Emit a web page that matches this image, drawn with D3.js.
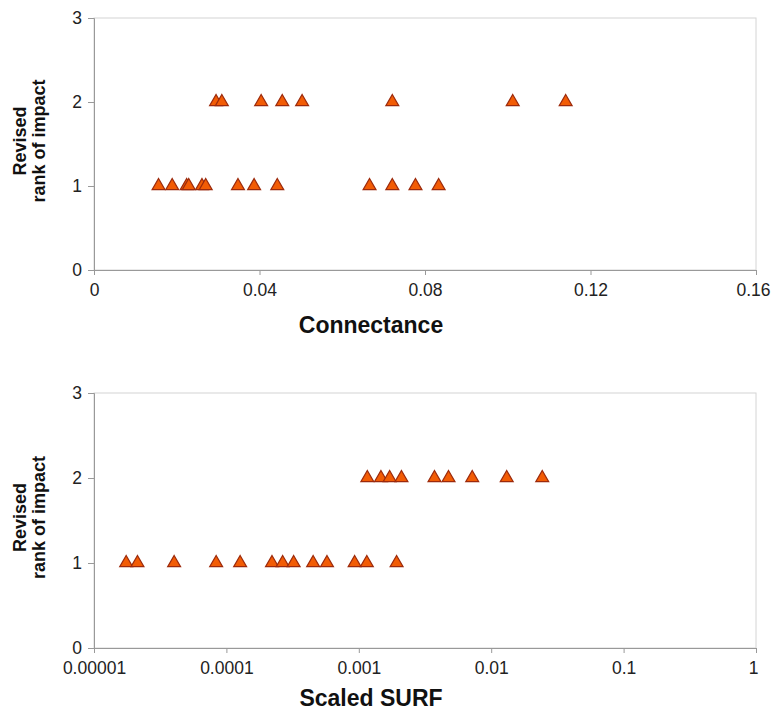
<!DOCTYPE html>
<html lang="en">
<head>
<meta charset="UTF-8">
<script src="https://d3js.org/d3.v7.min.js"></script>
<style>
    body { margin: 0; background: #fff; }
    svg { display: block; font-family: "Liberation Sans", Arial, Helvetica, sans-serif; }
    .tick text { font-size: 17.5px; fill: #222; }
    .axis-title { font-size: 23px; font-weight: bold; fill: #111; }
    .y-title { font-size: 18px; font-weight: bold; fill: #111; }
    .tri { fill: #f25c05; stroke: #9c2a0c; stroke-width: 1.2; }
</style>
</head>
<body>
<svg id="chart" width="772" height="712"></svg>
<script>
// rank of impact vs connectance (top panel)
const connRank2 = [0.0295, 0.0309, 0.0404, 0.0455, 0.0503, 0.0721, 0.1012, 0.1140];
const connRank1 = [0.0156, 0.0189, 0.0224, 0.0229, 0.0261, 0.0270, 0.0348, 0.0387, 0.0443, 0.0666, 0.0721, 0.0777, 0.0833];
const connTicks = [0, 0.04, 0.08, 0.12, 0.16];
const connTickLabels = ["0", "0.04", "0.08", "0.12", "0.16"];

// rank of impact vs scaled SURF (bottom panel)
const surfRank2 = [0.00116, 0.00147, 0.00171, 0.00210, 0.00373, 0.00476, 0.00719, 0.0131, 0.0243];
const surfRank1 = [0.0000175, 0.0000213, 0.0000403, 0.0000837, 0.000127, 0.000221, 0.000266, 0.000322, 0.000452, 0.000575, 0.000930, 0.00115, 0.00193];
const surfTicks = [0.00001, 0.0001, 0.001, 0.01, 0.1, 1];
const surfTickLabels = ["0.00001", "0.0001", "0.001", "0.01", "0.1", "1"];

const rankTicks = [0, 1, 2, 3];

const svg = d3.select("#chart");
const left = 94, right = 756;
const triangle = d3.symbol().type(d3.symbolTriangle).size(72);

function panel(top, bottom, xScale, ticks, tickLabels, series, xTitle, titleY) {
    const g = svg.append("g");
    const y = d3.scaleLinear().domain([0, 3]).range([bottom, top]);

    // plot area border
    g.append("rect")
        .attr("x", left).attr("y", top)
        .attr("width", right - left).attr("height", bottom - top)
        .attr("fill", "none").attr("stroke", "#d4d4d4").attr("stroke-width", 1);

    const yAxis = g.append("g")
        .attr("transform", `translate(${left},0)`)
        .call(d3.axisLeft(y).tickValues(rankTicks).tickFormat(d3.format("d")).tickSizeOuter(0).tickSize(6).tickPadding(6));
    const xAxis = g.append("g")
        .attr("transform", `translate(0,${bottom})`)
        .call(d3.axisBottom(xScale).tickValues(ticks).tickFormat((d, i) => tickLabels[i]).tickSizeOuter(0).tickSize(5).tickPadding(9));
    [xAxis, yAxis].forEach(a => {
        a.select(".domain").attr("stroke", "#999");
        a.selectAll(".tick line").attr("stroke", "#999");
        a.selectAll(".tick text").attr("font-family", null).attr("font-size", null);
    });
    // keep the last label inside the page edge
    xAxis.selectAll(".tick text").filter((d, i) => i === ticks.length - 1).attr("dx", -3);

    // points
    series.forEach(s => {
        g.selectAll(null).data(s.values).join("path")
            .attr("class", "tri")
            .attr("d", triangle)
            .attr("transform", d => `translate(${xScale(d)},${y(s.rank)})`);
    });

    g.append("text")
        .attr("class", "axis-title")
        .attr("x", 371)
        .attr("y", titleY)
        .attr("text-anchor", "middle")
        .text(xTitle);

    const yt = g.append("text")
        .attr("class", "y-title")
        .attr("text-anchor", "middle")
        .attr("transform", `translate(26,${(top + bottom) / 2 - 3}) rotate(-90)`);
    yt.append("tspan").attr("x", 0).attr("dy", 0).text("Revised");
    yt.append("tspan").attr("x", 0).attr("dy", 19).text("rank of impact");
}

const xConn = d3.scaleLinear().domain([0, 0.16]).range([left, right]);
panel(18, 270, xConn, connTicks, connTickLabels,
    [{rank: 2, values: connRank2}, {rank: 1, values: connRank1}], "Connectance", 333);

const xSurf = d3.scaleLog().domain([0.00001, 1]).range([left, right]);
panel(393, 648, xSurf, surfTicks, surfTickLabels,
    [{rank: 2, values: surfRank2}, {rank: 1, values: surfRank1}], "Scaled SURF", 706);
</script>
</body>
</html>
